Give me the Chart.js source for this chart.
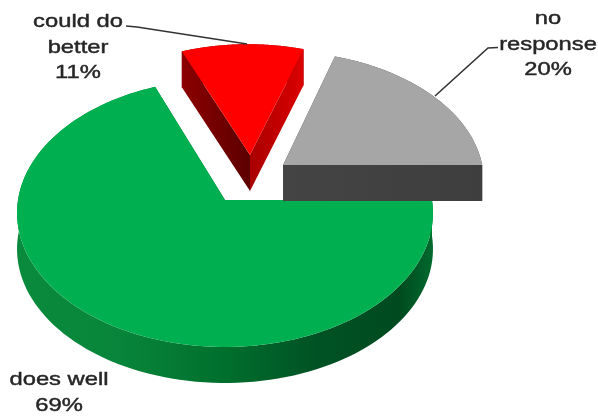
<!DOCTYPE html>
<html>
<head>
<meta charset="utf-8">
<style>
  html, body { margin: 0; padding: 0; background: #fff; }
  #wrap { width: 598px; height: 416px; }
</style>
<script src="https://cdn.jsdelivr.net/npm/chart.js@4/dist/chart.umd.min.js"></script>
</head>
<body>
<div id="wrap"><canvas id="pie" width="598" height="416"></canvas></div>
<script>
// Survey shares, in draw order clockwise from the first slice
const categories = ['no response', 'does well', 'could do better'];
const shares = [20, 69, 11];
const topColors = ['#A6A6A6', '#00B050', '#FF0000'];
const labelLines = [['no', 'response'], ['does well'], ['could do', 'better']];

// Tilted-disc look: perspective strength, axis scales and wall height
const tilt = { p: 0.097, sx: 1.035, sy: 0.6635, depth: 36 };

// Per-slice look of the extruded pie, indexed like the data
const sliceStyles = [
  { shift: [0.288, -0.27], scale: 0.987,
    startWall: [[0, '#444444'], [1, '#444444']],
    endWall: [[0, '#444444'], [1, '#3e3e3e']],
    arcWall: [[0, '#444444'], [1, '#444444']] },
  { shift: [0, 0], scale: 1,
    startWall: [[0, '#00702e'], [1, '#00702e']],
    endWall: [[0, '#00702e'], [1, '#00702e']],
    arcWall: [[0, '#0a8a3c'], [0.25, '#08853a'], [0.5, '#006f2d'], [0.72, '#005224'], [0.92, '#004a20'], [1, '#006a2c']] },
  { shift: [0.125, -0.35], scale: 0.975,
    startWall: [[0, '#8c0000'], [1, '#5c0000']],
    endWall: [[0, '#a80000'], [1, '#dc0000']],
    arcWall: [[0, '#8c0000'], [1, '#8c0000']] }
];

// Label anchors: centre x and first baseline, with line pitch
const labelSpots = [
  { x: 548, y: 24, pitch: 25.5 },
  { x: 59, y: 385, pitch: 26 },
  { x: 78, y: 27, pitch: 25.5 }
];
const leaderLines = [
  [[498, 47.5], [488, 48], [435, 96]],
  null,
  [[126, 26], [137, 27], [247, 44]]
];

function project(el, u, v) {
  const w = 1 / (1 - tilt.p * v);
  return {
    x: el.x + el.outerRadius * tilt.sx * u * w,
    y: el.y + el.outerRadius * tilt.sy * v * w
  };
}

function outline(el, style) {
  const pts = [];
  const steps = 120;
  for (let i = 0; i <= steps; i++) {
    const a = el.startAngle + (el.endAngle - el.startAngle) * i / steps;
    pts.push(project(el,
      style.shift[0] + style.scale * Math.cos(a),
      style.shift[1] + style.scale * Math.sin(a)));
  }
  return { apex: project(el, style.shift[0], style.shift[1]), arc: pts };
}

function horizontalPaint(ctx, pts, stops) {
  const xs = pts.map(p => p.x);
  const g = ctx.createLinearGradient(Math.min(...xs), 0, Math.max(...xs), 0);
  stops.forEach(s => g.addColorStop(s[0], s[1]));
  return g;
}

function fillPath(ctx, pts, paint) {
  ctx.beginPath();
  pts.forEach((p, i) => i ? ctx.lineTo(p.x, p.y) : ctx.moveTo(p.x, p.y));
  ctx.closePath();
  ctx.fillStyle = paint;
  ctx.fill();
}

function lowered(pts) {
  return pts.map(p => ({ x: p.x, y: p.y + tilt.depth }));
}

function drawSlice(ctx, el, style) {
  const { apex, arc } = outline(el, style);
  const first = arc[0], last = arc[arc.length - 1];

  // Walls go down first, the top face is painted over them
  const arcWall = arc.concat(lowered(arc).reverse());
  fillPath(ctx, arcWall, horizontalPaint(ctx, arcWall, style.arcWall));
  const startWall = [apex, first].concat(lowered([first, apex]));
  fillPath(ctx, startWall, horizontalPaint(ctx, startWall, style.startWall));
  const endWall = [apex, last].concat(lowered([last, apex]));
  fillPath(ctx, endWall, horizontalPaint(ctx, endWall, style.endWall));

  fillPath(ctx, [apex].concat(arc), el.options.backgroundColor);
}

const extrudedPie = {
  id: 'extrudedPie',
  // Slices are drawn here from the arc elements the pie controller laid out
  beforeDatasetsDraw(chart) {
    const ctx = chart.ctx;
    const arcs = chart.getDatasetMeta(0).data;
    ctx.save();
    [1, 0, 2].forEach(i => drawSlice(ctx, arcs[i], sliceStyles[i]));
    ctx.restore();
    return false;
  },
  afterDraw(chart) {
    const ctx = chart.ctx;
    ctx.save();

    ctx.strokeStyle = '#333333';
    ctx.lineWidth = 1.6;
    leaderLines.forEach(line => {
      if (!line) return;
      ctx.beginPath();
      line.forEach((p, i) => i ? ctx.lineTo(p[0], p[1]) : ctx.moveTo(p[0], p[1]));
      ctx.stroke();
    });

    ctx.fillStyle = '#262626';
    ctx.strokeStyle = '#262626';
    ctx.lineWidth = 0.45;
    ctx.font = '19px "Liberation Sans", Arial, sans-serif';
    ctx.textAlign = 'center';
    ctx.textBaseline = 'alphabetic';
    categories.forEach((name, i) => {
      const spot = labelSpots[i];
      const lines = labelLines[i].concat(shares[i] + '%');
      lines.forEach((text, n) => {
        ctx.save();
        ctx.translate(spot.x, spot.y + n * spot.pitch);
        ctx.scale(1.25, 1);
        ctx.fillText(text, 0, 0);
        ctx.strokeText(text, 0, 0);
        ctx.restore();
      });
    });
    ctx.restore();
  }
};

new Chart(document.getElementById('pie'), {
  type: 'pie',
  data: {
    labels: categories,
    datasets: [{ data: shares, backgroundColor: topColors, borderWidth: 0 }]
  },
  options: {
    responsive: false,
    animation: false,
    rotation: 18,
    layout: { padding: { right: 148, bottom: 16 } },
    plugins: { legend: { display: false }, tooltip: { enabled: false } }
  },
  plugins: [extrudedPie]
});
</script>
</body>
</html>
